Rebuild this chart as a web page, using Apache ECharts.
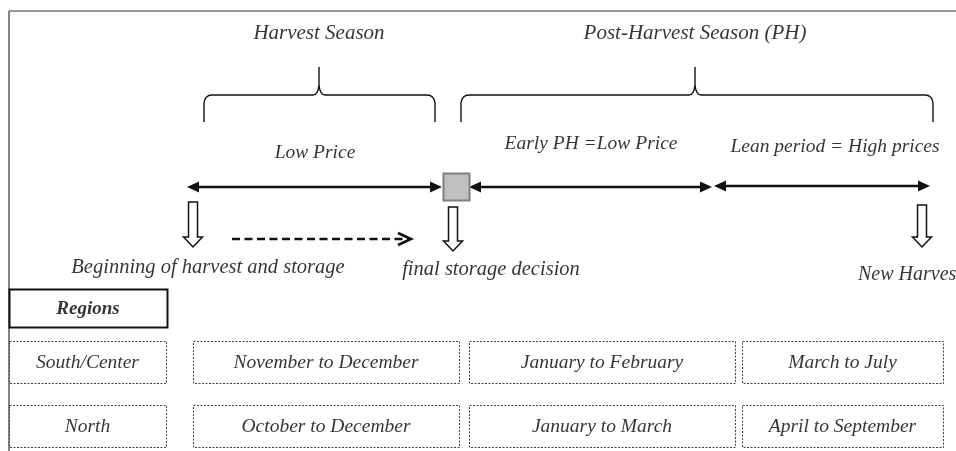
<!DOCTYPE html>
<html>
<head>
<meta charset="utf-8">
<script src="https://cdn.jsdelivr.net/npm/echarts@6/dist/echarts.min.js"></script>
<style>
html, body { margin: 0; padding: 0; background: #fff; }
#container { width: 956px; height: 451px; }
</style>
</head>
<body>
<div id="container"></div>
<script>
// --- diagram content (x / y in page units of the hidden axes) ---
var seasons = ['Harvest Season', 'Post-Harvest Season (PH)'];
var seasonSpans = [[204, 435], [461, 933]];
var seasonPeaks = [319, 695];

var periods = ['Low Price', 'Early PH =Low Price', 'Lean period = High prices'];
var periodSpans = [[187, 442], [469, 712], [714, 930]];
var periodArrowY = [187, 187, 186];
var periodLabelX = [315, 591, 835];
var periodLabelY = [153, 144, 147];

var events = ['Beginning of harvest and storage', 'final storage decision', 'New Harvest'];
var eventArrowX = [193, 453, 922];
var eventArrowTop = [202, 207, 205];
var eventArrowTip = [247, 251, 247];
var eventLabelX = [208, 491, 858];
var eventLabelY = [268, 270, 275];

var decisionBox = [443, 173, 469, 200];
var storageArrow = [232, 411, 239];

var headerLabel = 'Regions';
var headerBox = [9, 289, 167, 327];
var regions = ['South/Center', 'North'];
var harvestMonths = ['November to December', 'October to December'];
var earlyPHMonths = ['January to February', 'January to March'];
var leanMonths = ['March to July', 'April to September'];
var columnSpans = [[9, 166], [193, 459], [469, 735], [742, 943]];
var rowSpans = [[341, 383], [405, 447]];

var frameLines = [[9, 11, 956, 11], [9, 11, 9, 451]];

// --- build series data ---
var braceData = seasons.map(function (s, i) {
  return [seasonSpans[i][0], seasonSpans[i][1], seasonPeaks[i]];
});
var periodArrowData = periods.map(function (p, i) {
  return [periodSpans[i][0], periodSpans[i][1], periodArrowY[i]];
});
var eventArrowData = events.map(function (e, i) {
  return [eventArrowX[i], eventArrowTop[i], eventArrowTip[i]];
});
var cellData = [];
var cellText = [];
rowSpans.forEach(function (r, ri) {
  var row = [regions[ri], harvestMonths[ri], earlyPHMonths[ri], leanMonths[ri]];
  columnSpans.forEach(function (c, ci) {
    cellData.push([c[0], r[0], c[1], r[1]]);
    cellText.push({ name: row[ci], value: [(c[0] + c[1]) / 2, (r[0] + r[1]) / 2 + 1] });
  });
});
var seasonText = seasons.map(function (s, i) {
  return { name: s, value: [seasonPeaks[i], 33] };
});
var periodText = periods.map(function (p, i) {
  return { name: p, value: [periodLabelX[i], periodLabelY[i]] };
});
var eventText = events.slice(0, 2).map(function (e, i) {
  return { name: e, value: [eventLabelX[i], eventLabelY[i]] };
});
var newHarvestText = [{ name: events[2], value: [eventLabelX[2], eventLabelY[2]] }];

var serif = '"Liberation Serif", "Times New Roman", serif';
var ink = '#111';

function textSeries(data, size, align, weight) {
  return {
    type: 'scatter',
    data: data,
    symbolSize: 1,
    itemStyle: { color: 'rgba(0,0,0,0)' },
    silent: true,
    label: {
      show: true,
      position: 'inside',
      formatter: '{b}',
      color: '#000',
      textBorderWidth: 0,
      fontFamily: serif,
      fontStyle: 'italic',
      fontWeight: weight || 'normal',
      fontSize: size,
      align: align || 'center',
      verticalAlign: 'middle'
    }
  };
}

function renderFrame(params, api) {
  var a = api.coord([api.value(0), api.value(1)]);
  var b = api.coord([api.value(2), api.value(3)]);
  return { type: 'line', shape: { x1: a[0], y1: a[1], x2: b[0], y2: b[1] },
    style: { stroke: '#333', lineWidth: 1.2 } };
}

function renderBrace(params, api) {
  var x1 = api.value(0), x2 = api.value(1), xc = api.value(2);
  var P = function (x, y) { var c = api.coord([x, y]); return c[0] + ' ' + c[1]; };
  var d = 'M' + P(x1, 122) + ' L' + P(x1, 103) + ' Q' + P(x1 + 1, 95) + ' ' + P(x1 + 8, 95) +
    ' L' + P(xc - 6, 95) + ' Q' + P(xc - 1, 95) + ' ' + P(xc, 85) + ' L' + P(xc, 67) +
    ' L' + P(xc, 85) + ' Q' + P(xc + 1, 95) + ' ' + P(xc + 6, 95) +
    ' L' + P(x2 - 8, 95) + ' Q' + P(x2 - 1, 95) + ' ' + P(x2, 103) + ' L' + P(x2, 122);
  return { type: 'path', shape: { pathData: d },
    style: { fill: 'none', stroke: ink, lineWidth: 1.4 } };
}

function renderDoubleArrow(params, api) {
  var a = api.coord([api.value(0), api.value(2)]);
  var b = api.coord([api.value(1), api.value(2)]);
  var hl = 12, hw = 5.5;
  return { type: 'group', children: [
    { type: 'line', shape: { x1: a[0] + hl - 2, y1: a[1], x2: b[0] - hl + 2, y2: b[1] },
      style: { stroke: ink, lineWidth: 2.4 } },
    { type: 'polygon', shape: { points: [[a[0], a[1]], [a[0] + hl, a[1] - hw], [a[0] + hl, a[1] + hw]] },
      style: { fill: ink } },
    { type: 'polygon', shape: { points: [[b[0], b[1]], [b[0] - hl, b[1] - hw], [b[0] - hl, b[1] + hw]] },
      style: { fill: ink } }
  ] };
}

function renderDownArrow(params, api) {
  var x = api.value(0), top = api.value(1), tip = api.value(2);
  var sw = 4.5, hw = 9.5, hl = 10;
  var pts = [[x - sw, top], [x + sw, top], [x + sw, tip - hl], [x + hw, tip - hl],
    [x, tip], [x - hw, tip - hl], [x - sw, tip - hl]].map(function (p) { return api.coord(p); });
  return { type: 'polygon', shape: { points: pts },
    style: { fill: '#fff', stroke: ink, lineWidth: 1.5 } };
}

function renderDashedArrow(params, api) {
  var x1 = api.value(0), x2 = api.value(1), y = api.value(2);
  var a = api.coord([x1, y]), b = api.coord([x2 - 3, y]);
  var chev = [[x2 - 13, y - 6], [x2, y], [x2 - 13, y + 6]].map(function (p) { return api.coord(p); });
  return { type: 'group', children: [
    { type: 'line', shape: { x1: a[0], y1: a[1], x2: b[0], y2: b[1] },
      style: { stroke: ink, lineWidth: 2.6, lineDash: [8, 4.5] } },
    { type: 'polyline', shape: { points: chev },
      style: { stroke: ink, lineWidth: 2.6, fill: 'none' } }
  ] };
}

function rectRenderer(stroke, width, dash, fill) {
  return function (params, api) {
    var a = api.coord([api.value(0), api.value(1)]);
    var b = api.coord([api.value(2), api.value(3)]);
    return { type: 'rect',
      shape: { x: a[0] + 0.5, y: a[1] + 0.5, width: b[0] - a[0], height: b[1] - a[1] },
      style: { stroke: stroke, lineWidth: width, lineDash: dash, fill: fill } };
  };
}

var dom = document.getElementById('container');
var myChart = echarts.init(dom);

var option = {
  animation: false,
  backgroundColor: '#fff',
  grid: { left: 0, right: 0, top: 0, bottom: 0 },
  xAxis: { type: 'value', min: 0, max: 956, show: false },
  yAxis: { type: 'value', min: 0, max: 451, inverse: true, show: false },
  series: [
    { type: 'custom', name: 'frame', renderItem: renderFrame, data: frameLines, silent: true },
    { type: 'custom', name: 'seasons', renderItem: renderBrace, data: braceData, silent: true },
    { type: 'custom', name: 'periods', renderItem: renderDoubleArrow, data: periodArrowData, silent: true },
    { type: 'custom', name: 'decision', silent: true,
      renderItem: rectRenderer('#7f7f7f', 2, null, '#c0c0c0'), data: [decisionBox] },
    { type: 'custom', name: 'events', renderItem: renderDownArrow, data: eventArrowData, silent: true },
    { type: 'custom', name: 'storage', renderItem: renderDashedArrow, data: [storageArrow], silent: true },
    { type: 'custom', name: 'header', silent: true,
      renderItem: rectRenderer('#111', 2, null, 'none'), data: [headerBox] },
    { type: 'custom', name: 'cells', silent: true,
      renderItem: rectRenderer('#444', 1, [2, 1.5], 'none'), data: cellData },
    textSeries(seasonText, 21),
    textSeries(periodText, 19.5),
    textSeries(eventText, 20.5),
    textSeries(newHarvestText, 20, 'left'),
    textSeries([{ name: headerLabel, value: [(headerBox[0] + headerBox[2]) / 2, (headerBox[1] + headerBox[3]) / 2 + 1] }], 19, 'center', 'bold'),
    textSeries(cellText, 19.5)
  ]
};

if (option && typeof option === 'object') {
  myChart.setOption(option, true);
}
</script>
</body>
</html>
